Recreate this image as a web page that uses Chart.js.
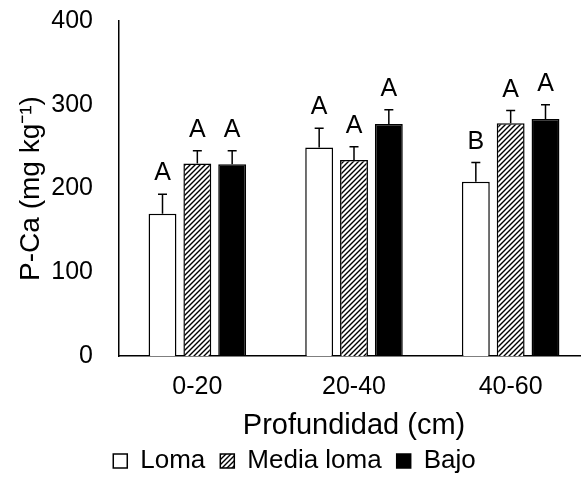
<!DOCTYPE html>
<html>
<head>
<meta charset="utf-8">
<script src="https://cdn.jsdelivr.net/npm/chart.js@4.4.0/dist/chart.umd.min.js"></script>
<style>
  html, body { margin: 0; padding: 0; background: #fff; overflow: hidden; }
  #wrap { width: 590px; height: 477px; }
</style>
</head>
<body>
<div id="wrap"><canvas id="myChart" width="590" height="477"></canvas></div>
<script>
// Data
const depths = ['0-20', '20-40', '40-60'];

const loma = [170, 249, 208];
const lomaErr = [23, 23, 23];
const lomaLetters = ['A', 'A', 'B'];

const mediaLoma = [230, 234, 278];
const mediaLomaErr = [15, 16, 15];
const mediaLomaLetters = ['A', 'A', 'A'];

const bajo = [229, 277, 283];
const bajoErr = [16, 17, 17];
const bajoLetters = ['A', 'A', 'A'];

const yTicks = [0, 100, 200, 300, 400];

const FONT = "'Liberation Sans', Arial, sans-serif";
Chart.defaults.font.family = FONT;
Chart.defaults.color = '#000';

// Diagonal hatch ("/") for Media loma
function makeHatch() {
    const c = document.createElement('canvas');
    c.width = 5;
    c.height = 5;
    const g = c.getContext('2d');
    g.fillStyle = '#fff';
    g.fillRect(0, 0, 5, 5);
    g.strokeStyle = '#000';
    g.lineWidth = 1.4;
    g.beginPath();
    g.moveTo(-1, 6); g.lineTo(6, -1);
    g.moveTo(-1, 1); g.lineTo(1, -1);
    g.moveTo(4, 6); g.lineTo(6, 4);
    g.stroke();
    return g.createPattern(c, 'repeat');
}
const hatch = makeHatch();

// Error bars + significance letters
const errorBars = {
    id: 'errorBars',
    afterDatasetsDraw(chart) {
        const ctx = chart.ctx;
        const yScale = chart.scales.y;
        ctx.save();
        chart.data.datasets.forEach((ds, i) => {
            const meta = chart.getDatasetMeta(i);
            meta.data.forEach((bar, j) => {
                const top = yScale.getPixelForValue(ds.data[j] + ds.err[j]);
                ctx.strokeStyle = '#000';
                ctx.lineWidth = 1.5;
                ctx.beginPath();
                ctx.moveTo(bar.x, bar.y);
                ctx.lineTo(bar.x, top);
                ctx.moveTo(bar.x - 4.5, top);
                ctx.lineTo(bar.x + 4.5, top);
                ctx.stroke();
                ctx.fillStyle = '#000';
                ctx.font = '25px ' + FONT;
                ctx.textAlign = 'center';
                ctx.textBaseline = 'alphabetic';
                ctx.fillText(ds.letters[j], bar.x, top - 14);
            });
        });
        ctx.restore();
    }
};

const ctx = document.getElementById('myChart');

const myChart = new Chart(ctx, {
    type: 'bar',
    data: {
        labels: depths,
        datasets: [{
            label: 'Loma',
            data: loma,
            err: lomaErr,
            letters: lomaLetters,
            backgroundColor: '#fff',
            borderColor: '#000',
            borderWidth: 1.5
        }, {
            label: 'Media loma',
            data: mediaLoma,
            err: mediaLomaErr,
            letters: mediaLomaLetters,
            backgroundColor: hatch,
            borderColor: '#000',
            borderWidth: 1.5
        }, {
            label: 'Bajo',
            data: bajo,
            err: bajoErr,
            letters: bajoLetters,
            backgroundColor: '#000',
            borderColor: '#000',
            borderWidth: 1.5
        }]
    },
    options: {
        responsive: false,
        animation: false,
        categoryPercentage: 0.667,
        barPercentage: 0.8,
        layout: { padding: { top: 21, right: 1, left: 0, bottom: -7 } },
        plugins: {
            tooltip: { enabled: false },
            legend: {
                position: 'bottom',
                labels: {
                    boxWidth: 14,
                    boxHeight: 14,
                    padding: 15,
                    font: { size: 26 },
                    color: '#000'
                }
            }
        },
        scales: {
            x: {
                grid: { display: false, drawTicks: false },
                border: { display: true, color: '#000', width: 1.5 },
                ticks: { font: { size: 25 }, color: '#000', padding: 16 },
                title: {
                    display: true,
                    text: 'Profundidad (cm)',
                    font: { size: 29 },
                    color: '#000',
                    padding: { top: 0, bottom: -10 }
                },
                afterFit(scale) { scale.height = 77; }
            },
            y: {
                min: 0,
                max: 400,
                grid: { display: false, drawTicks: true, tickLength: 22 },
                border: { display: true, color: '#000', width: 1.5 },
                afterBuildTicks(scale) { scale.ticks = yTicks.map(v => ({ value: v })); },
                ticks: { font: { size: 25 }, color: '#000', padding: 4 },
                title: {
                    display: true,
                    text: 'P-Ca (mg kg⁻¹)',
                    font: { size: 28 },
                    color: '#000',
                    padding: { top: 14, bottom: 0 }
                },
                afterFit(scale) { scale.width = 119; }
            }
        }
    },
    plugins: [errorBars]
});
</script>
</body>
</html>
